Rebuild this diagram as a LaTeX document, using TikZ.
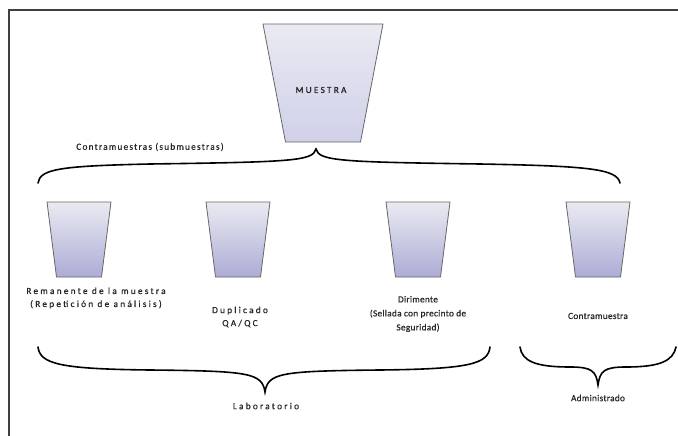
\documentclass[tikz,border=0pt]{standalone}
\usepackage{fontspec}
\newfontfamily\widefont{Carlito}[LetterSpace=24, FakeBold=0.6]
\newfontfamily\midfont{Carlito}[LetterSpace=13, FakeBold=0.6]
\newfontfamily\tightfont{Carlito}[LetterSpace=3, FakeBold=0.6]
\usetikzlibrary{positioning}
\definecolor{cuptop}{RGB}{234,234,242}
\definecolor{cupbot}{RGB}{172,172,214}
\definecolor{bigbot}{RGB}{208,208,234}
\tikzset{
  lbl/.style={font=\widefont\fontsize{9.3}{13}\selectfont, align=center, inner sep=0pt, text=black!85},
  midlbl/.style={lbl, font=\midfont\fontsize{9.3}{13}\selectfont},
  tightlbl/.style={lbl, font=\tightfont\fontsize{9.3}{14}\selectfont},
  brace/.style={line width=1.6pt, line cap=round},
  cupline/.style={draw=gray!80!black, line width=0.8pt}
}
% cup: x centre, top y, top half width, bottom half width, bottom y, bottom colour
\newcommand{\drawCup}[6]{
   	\shade[cupline, top color=cuptop, bottom color=#6] ({#1-#3},#2) -- ({#1+#3},#2) -- ({#1+#4},#5) -- ({#1-#4},#5) -- cycle;
}

\begin{document}
\begin{tikzpicture}[x=1pt, y=-1pt]
\useasboundingbox (0,0) rectangle (678,436);

%Frame
	\draw[line width=2pt, black!75] (8.5,436) -- (8.5,10) -- (678,10);

%Cups
\drawCup{323}{24}{60}{37.5}{142}{bigbot}
\drawCup{79}{202}{32}{22.5}{277}{cupbot}
\drawCup{238}{202}{32}{22.5}{277}{cupbot}
\drawCup{418}{202}{32}{22.5}{277}{cupbot}
\drawCup{598}{202}{32}{22.5}{277}{cupbot}

	\node[lbl] (muestra) at (321,90) {MUESTRA};
	\node[midlbl] (submuestras) at (150,147) {Contramuestras (submuestras)};

% Labels under the cups
    \node[lbl] (remanente) at (96,298) {Remanente de la muestra\\(Repetición de análisis)};
    \node[lbl] (duplicado) at (240,317) {Duplicado\\QA/QC};
    \node[tightlbl] (dirimente) at (418,314) {Dirimente\\(Sellada con precinto de\\Seguridad)};
    \node[tightlbl] (contramuestra) at (598,316) {Contramuestra};
    \node[lbl] (laboratorio) at (266,406) {Laboratorio};
    \node[tightlbl] (administrado) at (598,398) {Administrado};

% Braces
    \draw[brace] (38,183) .. controls (40,169) and (60,166) .. (150,164)
        .. controls (292,162) and (313,161) .. (316,149)
        .. controls (319,161) and (340,162) .. (480,164)
        .. controls (590,166) and (617,169) .. (620,183);
    \draw[brace] (38,347) .. controls (40,364) and (60,369) .. (150,370)
        .. controls (250,371) and (262,373) .. (265,392)
        .. controls (268,373) and (280,371) .. (380,370)
        .. controls (470,369) and (488,364) .. (490,347);
    \draw[brace] (520,347) .. controls (522,361) and (535,367) .. (570,367)
        .. controls (592,367) and (596,371) .. (598,385)
        .. controls (600,371) and (604,367) .. (626,367)
        .. controls (660,367) and (673,361) .. (676,347);

\end{tikzpicture}
\end{document}
